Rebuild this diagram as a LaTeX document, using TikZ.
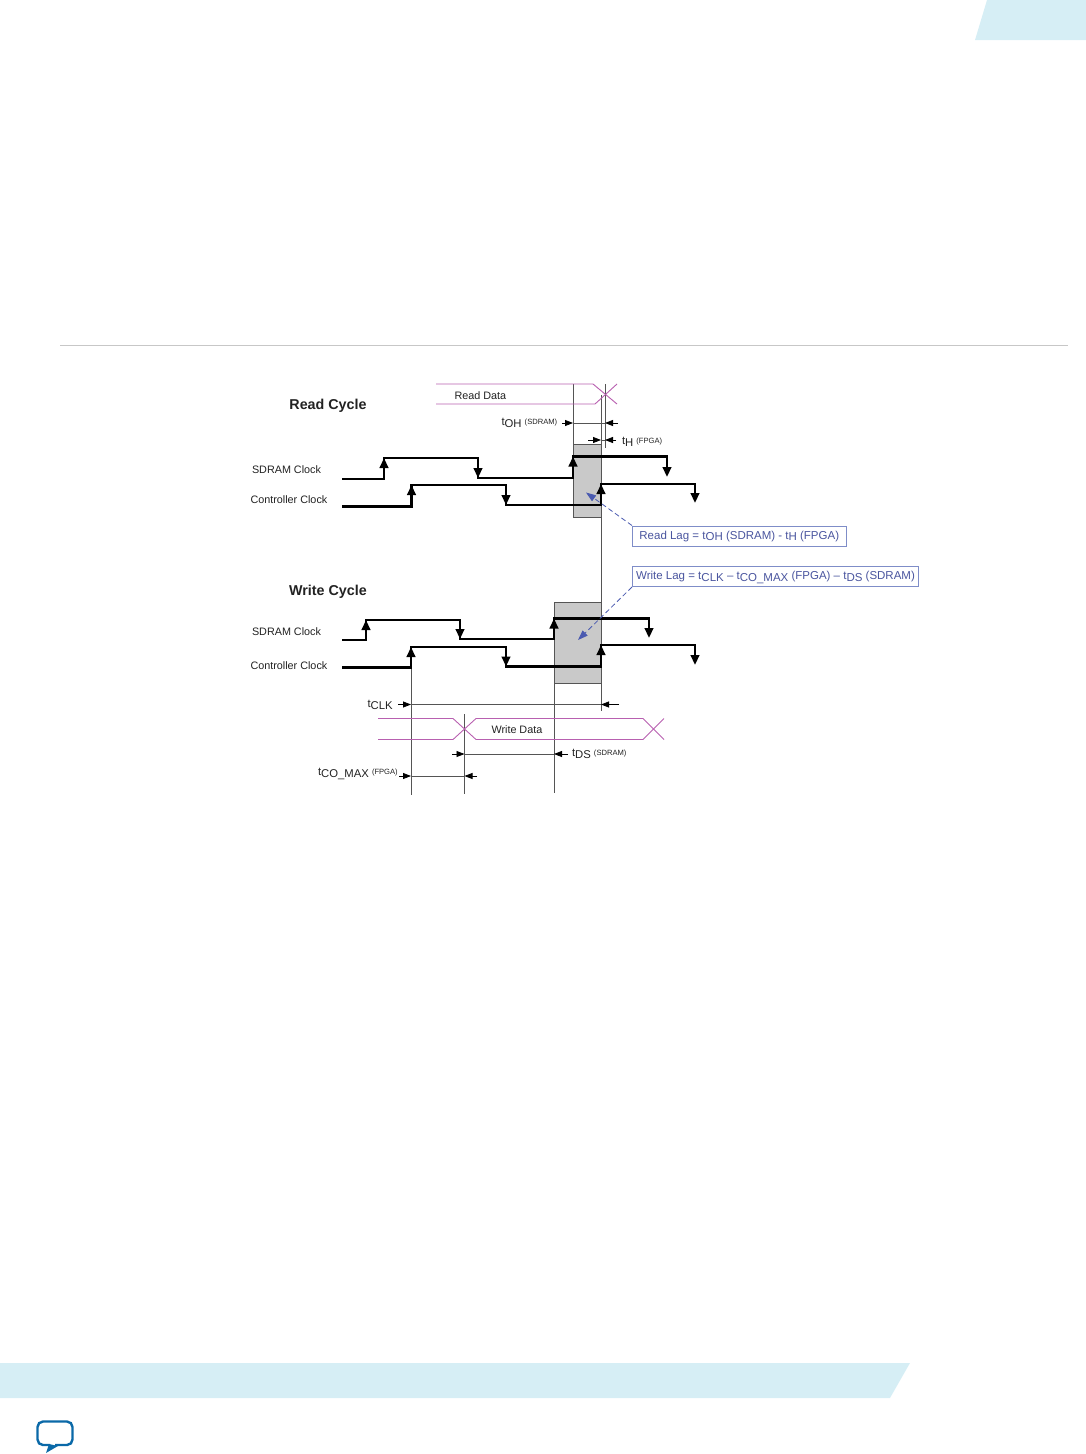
\documentclass[tikz,border=0pt]{standalone}
\usepackage{fontspec}
\setmainfont{Liberation Sans}
\usetikzlibrary{arrows.meta}
\definecolor{band}{HTML}{D6EEF5}
\definecolor{pinkline}{HTML}{B860B0}
\definecolor{rulegray}{HTML}{555555}
\definecolor{graybox}{HTML}{C9C9C9}
\definecolor{calltext}{HTML}{4A559F}
\definecolor{callbox}{HTML}{7F8DC8}
\definecolor{callarrow}{HTML}{4A5AB0}
\definecolor{iconblue}{HTML}{0A69A8}
\definecolor{txt}{HTML}{222222}
\newcommand{\fs}[1]{\fontsize{#1}{#1}\selectfont}
\newcommand{\lowt}[1]{\raisebox{-0.3ex}{#1}}
\newcommand{\tinyq}[1]{\raisebox{0.25ex}{\fs{7.6}#1}}
\tikzset{
  x=1pt,y=-1pt,
  lbl/.style={inner sep=0pt,outer sep=0pt,text=txt,font=\fs{10.8},anchor=west},
  dimlbl/.style={inner sep=0pt,outer sep=0pt,text=txt,font=\fs{11.3},anchor=west},
  title/.style={inner sep=0pt,outer sep=0pt,text=txt,font=\fs{14.3}\bfseries},
  clk/.style={line width=2.6pt,black,line cap=rect},
  clkhead/.style={line width=2.6pt,black,-{Triangle[length=10pt,width=8.5pt]}},
  pink/.style={line width=0.9pt,pinkline},
  vline/.style={line width=1pt,rulegray},
  dim/.style={line width=0.8pt,rulegray},
  dimhead/.style={line width=0.8pt,black,-{Triangle[length=8pt,width=6pt]}},
  lagbox/.style={fill=graybox,draw=rulegray,line width=0.8pt},
  callout/.style={draw=callbox,line width=1pt,fill=white,inner sep=0pt,text=calltext,font=\fs{11.5},minimum height=20pt,align=center,text depth=3pt,text height=9pt},
  callline/.style={callarrow,line width=0.8pt,dash pattern=on 5pt off 3pt,-{Triangle[length=10pt,width=7pt]}},
}
\begin{document}
\begin{tikzpicture}
\useasboundingbox (0,0) rectangle (1086,1454);
% page furniture
\fill[band] (975,40) -- (987,0) -- (1086,0) -- (1086,40) -- cycle;
\fill[band] (0,1363) -- (910,1363) -- (890,1398) -- (0,1398) -- cycle;
\draw[line width=0.8pt,black!22] (60,345.5) -- (1068,345.5);
\draw[iconblue,line width=2.4pt,rounded corners=5.5pt] (55,1445) -- (72.5,1445) -- (72.5,1421.5) -- (37.5,1421.5) -- (37.5,1445) -- (50,1445);
\fill[iconblue] (46,1453) -- (58,1446) -- (49,1444) -- cycle;
% lag boxes
\node[lagbox,inner sep=0pt,minimum width=28pt,minimum height=73pt] (readbox) at (587,480.5) {};
\node[lagbox,inner sep=0pt,minimum width=47pt,minimum height=81pt] (writebox) at (577.5,642.5) {};
% vertical reference lines
\coordinate (r0) at (573,384); \coordinate (r1) at (573,444);
\coordinate (h0) at (605,384); \coordinate (h1) at (605,448);
\coordinate (m0) at (601,395); \coordinate (m1) at (601,711);
\coordinate (w1t) at (411,647); \coordinate (w1b) at (411,795);
\coordinate (w2t) at (464.5,714); \coordinate (w2b) at (464.5,794);
\coordinate (w3t) at (554,683); \coordinate (w3b) at (554,793);
\draw[vline] (r0) -- (r1);
\draw[vline] (h0) -- (h1);
\draw[vline] (m0) -- (m1);
\draw[vline] (w1t) -- (w1b);
\draw[vline] (w2t) -- (w2b);
\draw[vline] (w3t) -- (w3b);
% data eyes
\draw[pink] (436,384) -- (593,384) -- (617,404);
\draw[pink] (436,404) -- (595,404) -- (617,384);
\draw[pink] (378,718.5) -- (453,718.5) -- (476,739.5) -- (643,739.5) -- (664,718.5);
\draw[pink] (378,739.5) -- (453,739.5) -- (476,718.5) -- (643,718.5) -- (664,739.5);
\node[lbl] (readdata) at (454.5,396) {Read Data};
\node[lbl] (writedata) at (491.5,729.5) {Write Data};
% read clocks
\draw[clk] (343,479) -- (384,479) -- (384,458) -- (478,458) -- (478,478) -- (573,478) -- (573,456.5) -- (667,456.5) -- (667,470);
\draw[clkhead] (384,470) -- (384,458);
\draw[clkhead] (478,466) -- (478,478);
\draw[clkhead] (573,468) -- (573,456.5);
\draw[clkhead] (667,465) -- (667,477);
\draw[clk] (343,506.5) -- (411.5,506.5) -- (411.5,485) -- (506,485) -- (506,505) -- (601,505) -- (601,484) -- (695,484) -- (695,496);
\draw[clkhead] (411.5,497) -- (411.5,485);
\draw[clkhead] (506,493) -- (506,505);
\draw[clkhead] (601,496) -- (601,484);
\draw[clkhead] (695,491) -- (695,503);
% write clocks
\draw[clk] (343,640) -- (366,640) -- (366,620) -- (460,620) -- (460,639) -- (554,639) -- (554,618.5) -- (649,618.5) -- (649,631);
\draw[clkhead] (366,632) -- (366,620);
\draw[clkhead] (460,627) -- (460,639);
\draw[clkhead] (554,630.5) -- (554,618.5);
\draw[clkhead] (649,626) -- (649,638);
\draw[clk] (343,667.5) -- (411,667.5) -- (411,647) -- (506,647) -- (506,666.5) -- (601,666.5) -- (601,645) -- (695,645) -- (695,658);
\draw[clkhead] (411,659) -- (411,647);
\draw[clkhead] (506,654.5) -- (506,666.5);
\draw[clkhead] (601,657) -- (601,645);
\draw[clkhead] (695,653) -- (695,665);
% titles and signal names
\node[title] (readtitle) at (328,405.5) {Read Cycle};
\node[title] (writetitle) at (328,591.5) {Write Cycle};
\node[lbl] (rs) at (252,469.7) {SDRAM Clock};
\node[lbl] (rc) at (250.5,499.7) {Controller Clock};
\node[lbl] (ws) at (252,631.7) {SDRAM Clock};
\node[lbl] (wc) at (250.5,665.7) {Controller Clock};
% dimension arrows
\coordinate (oh0) at (562,423); \coordinate (oh1) at (573,423); \coordinate (oh2) at (605,423); \coordinate (oh3) at (618,423);
\draw[dim] (oh1) -- (oh2);
\draw[dimhead] (oh0) -- (oh1);
\draw[dimhead] (oh3) -- (oh2);
\coordinate (th0) at (588,440); \coordinate (th1) at (601,440); \coordinate (th2) at (605,440); \coordinate (th3) at (616,440);
\draw[dim] (th1) -- (th2);
\draw[dimhead] (th0) -- (th1);
\draw[dimhead] (th3) -- (th2);
\coordinate (ck0) at (398,704.5); \coordinate (ck1) at (411,704.5); \coordinate (ck2) at (601,704.5); \coordinate (ck3) at (619,704.5);
\draw[dim] (ck1) -- (ck2);
\draw[dimhead] (ck0) -- (ck1);
\draw[dimhead] (ck3) -- (ck2);
\coordinate (ds0) at (452,754); \coordinate (ds1) at (464.5,754); \coordinate (ds2) at (554,754); \coordinate (ds3) at (568,754);
\draw[dim] (ds1) -- (ds2);
\draw[dimhead] (ds0) -- (ds1);
\draw[dimhead] (ds3) -- (ds2);
\coordinate (co0) at (399,776); \coordinate (co1) at (411,776); \coordinate (co2) at (464.5,776); \coordinate (co3) at (477,776);
\draw[dim] (co1) -- (co2);
\draw[dimhead] (co0) -- (co1);
\draw[dimhead] (co3) -- (co2);
\node[dimlbl] (toh) at (501.5,423) {t\lowt{OH} \tinyq{(SDRAM)}};
\node[dimlbl] (th) at (622,442) {t\lowt{H} \tinyq{(FPGA)}};
\node[dimlbl] (tclk) at (367.5,705) {t\lowt{CLK}};
\node[dimlbl] (tds) at (572,754) {t\lowt{DS} \tinyq{(SDRAM)}};
\node[dimlbl] (tco) at (318,774) {t\lowt{CO\_MAX} \tinyq{(FPGA)}};
% callouts
\node[callout,anchor=north west,minimum width=213.5pt] (readlag) at (632,525.5) {Read Lag = t\lowt{OH} (SDRAM) - t\lowt{H} (FPGA)};
\node[callout,anchor=north west,minimum width=286pt] (writelag) at (632,566) {Write Lag = t\lowt{CLK} -- t\lowt{CO\_MAX} (FPGA) -- t\lowt{DS} (SDRAM)};
\coordinate (readtip) at (586,492.5);
\coordinate (writetip) at (578,640);
\draw[callline] (readlag.north west) -- (readtip);
\draw[callline] (writelag.south west) -- (writetip);
\end{tikzpicture}
\end{document}
